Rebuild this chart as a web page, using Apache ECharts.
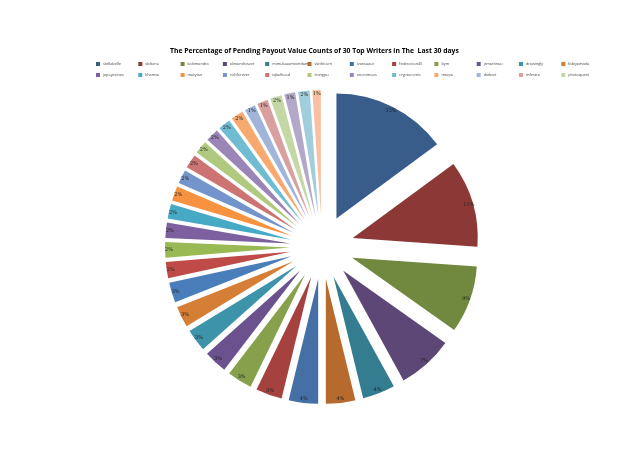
<!DOCTYPE html>
<html>
<head>
<meta charset="utf-8">
<script src="https://cdn.jsdelivr.net/npm/echarts@6/dist/echarts.min.js"></script>
<style>
  html, body { margin: 0; padding: 0; background: #fff; }
  #chart { width: 640px; height: 452px; }
</style>
</head>
<body>
<div id="chart"></div>
<script>
// writers, clockwise from 12 o'clock
const writers = [
  'stellabelle', 'daltono', 'kalemandra', 'alexandravart', 'mimuluuamsterdam', 'vlathicorn',
  'ivansuaur', 'federacion45', 'bym', 'jrmartinau', 'drawingly', 'fabiyamada',
  'writer13', 'writer14', 'writer15',
  'jepoyecinas', 'khamsa', 'matytan', 'richforever', 'iqbalhood', 'trangpu',
  'anonimous', 'cryptocomic', 'marpa', 'diebart', 'mfestra', 'photoquest',
  'writer28', 'writer29', 'writer30'
];
// share of pending payout value counts (%)
const shares = [
  14.9, 11.2, 8.7, 7.2, 4.2, 3.8, 3.8, 3.4, 3.2, 3.0, 2.9, 2.7, 2.6,
  2.1, 2.0, 2.0, 1.9, 1.9, 1.8, 1.8, 1.7, 1.7, 1.6, 1.6,
  1.4, 1.4, 1.5, 1.4, 1.5, 1.1
];
// legend rows as excel showed them
const legendRow1 = writers.slice(0, 12);
const legendRow2 = writers.slice(15, 27);

const palette = [
  '#385d8a', '#8c3836', '#71893f', '#5c4776', '#347d90', '#b66a2e',
  '#4470a6', '#a5423f', '#86a04b', '#6b528f', '#3d93aa', '#d47e36',
  '#4a7ebb', '#be4b48', '#98b954', '#7d60a0', '#46aac5', '#f69240',
  '#7395cb', '#cd7371', '#afca7e', '#9a85b6', '#70bcd2', '#f8a96f',
  '#a1b5da', '#d9a09f', '#c4d8a5', '#b4a8c9', '#a0cedd', '#f9c1a1'
];

const chart = echarts.init(document.getElementById('chart'));

const pieData = writers.map((name, i) => ({ name: name, value: shares[i], selected: true }));

// one legend box per entry so the columns line up like excel's grid
function legendCells(names, top) {
  return names.map((name, i) => ({
    orient: 'horizontal',
    left: 96 + i * 42.3,
    top: top,
    padding: 0,
    icon: 'rect',
    itemWidth: 4,
    itemHeight: 4,
    selectedMode: false,
    data: [name],
    textStyle: {
      fontSize: 3.8, color: '#444', fontFamily: 'Open Sans',
      padding: [0, 0, 0, -2]
    }
  }));
}

const option = {
  backgroundColor: '#fff',
  color: palette,
  animation: false,
  title: {
    text: 'The Percentage of Pending Payout Value Counts of 30 Top Writers in The  Last 30 days',
    left: 165,
    top: 43,
    textStyle: { fontSize: 6.8, fontWeight: 'bold', color: '#000', fontFamily: 'Open Sans' }
  },
  legend: legendCells(legendRow1, 62).concat(legendCells(legendRow2, 73)),
  series: [
    {
      type: 'pie',
      center: [322, 247],
      radius: [0, 125],
      startAngle: 90,
      selectedMode: 'multiple',
      selectedOffset: 32,
      avoidLabelOverlap: false,
      itemStyle: { borderWidth: 0 },
      label: { show: false },
      labelLine: { show: false },
      emphasis: { disabled: true },
      data: pieData
    },
    {
      // invisible copy that only carries the labels near the outer edge
      type: 'pie',
      center: [322, 247],
      radius: [0, 236],
      startAngle: 90,
      silent: true,
      selectedMode: 'multiple',
      selectedOffset: 32,
      avoidLabelOverlap: false,
      itemStyle: { color: 'rgba(0,0,0,0)', borderWidth: 0 },
      label: {
        show: true,
        position: 'inside',
        fontSize: 5,
        color: '#222',
        fontFamily: 'DejaVu Serif',
        formatter: p => Math.round(p.value) + '%'
      },
      labelLine: { show: false },
      emphasis: { disabled: true },
      data: pieData
    }
  ]
};

chart.setOption(option);
</script>
</body>
</html>
